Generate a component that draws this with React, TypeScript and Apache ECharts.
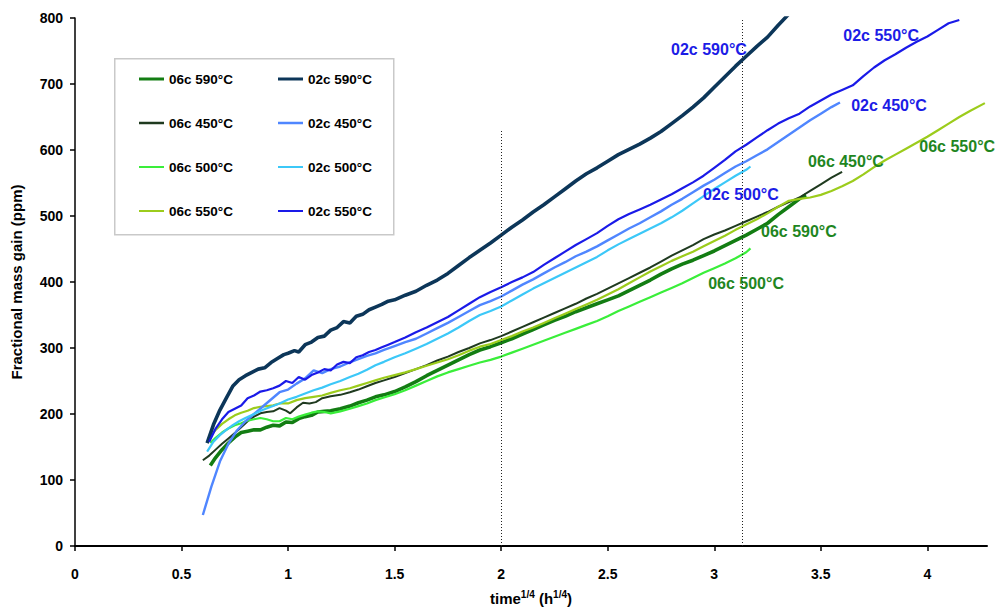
import React, { useEffect, useRef } from "react";
import * as echarts from "echarts";

// ---------- data (x = time^1/4 in h^1/4, y = fractional mass gain in ppm) ----------
const s06c590: number[][] = [
  [0.635, 122], [0.66, 134], [0.69, 146], [0.72, 156], [0.75, 165], [0.78, 172], [0.81, 174], [0.84, 176],
  [0.87, 176], [0.9, 180], [0.93, 183], [0.96, 182], [0.99, 188], [1.02, 187], [1.05, 193], [1.08, 196],
  [1.11, 198], [1.14, 203], [1.17, 204], [1.2, 205], [1.245, 208], [1.29, 212], [1.33, 217], [1.37, 221],
  [1.41, 226], [1.45, 229], [1.5, 234], [1.55, 241], [1.6, 249], [1.65, 258], [1.7, 266], [1.75, 274],
  [1.8, 282], [1.85, 290], [1.9, 297], [1.95, 302], [2.0, 308], [2.05, 314], [2.1, 321], [2.15, 328],
  [2.2, 335], [2.25, 342], [2.3, 348], [2.35, 355], [2.4, 361], [2.45, 367], [2.5, 373], [2.55, 379],
  [2.6, 387], [2.65, 395], [2.7, 403], [2.75, 412], [2.8, 420], [2.85, 427], [2.9, 433], [2.95, 440],
  [3.0, 447], [3.05, 455], [3.1, 463], [3.15, 471], [3.2, 480], [3.25, 489], [3.3, 502], [3.35, 514],
  [3.4, 526], [3.43, 532],
];
const s06c450: number[][] = [
  [0.6, 130], [0.63, 137], [0.66, 146], [0.69, 155], [0.72, 163], [0.75, 171], [0.78, 180], [0.81, 189],
  [0.84, 196], [0.87, 201], [0.9, 203], [0.93, 204], [0.96, 209], [0.99, 205], [1.01, 201], [1.04, 210],
  [1.07, 217], [1.1, 216], [1.13, 218], [1.16, 224], [1.2, 227], [1.245, 229], [1.29, 233], [1.33, 237],
  [1.37, 242], [1.41, 247], [1.45, 251], [1.5, 256], [1.55, 262], [1.6, 268], [1.65, 274], [1.7, 281],
  [1.75, 287], [1.8, 294], [1.85, 300], [1.9, 307], [1.95, 312], [2.0, 318], [2.05, 325], [2.1, 332],
  [2.15, 339], [2.2, 346], [2.25, 353], [2.3, 360], [2.35, 367], [2.4, 375], [2.45, 382], [2.5, 390],
  [2.55, 398], [2.6, 406], [2.65, 414], [2.7, 422], [2.75, 431], [2.8, 440], [2.85, 448], [2.9, 456],
  [2.95, 465], [3.0, 472], [3.05, 478], [3.1, 485], [3.15, 492], [3.2, 499], [3.25, 506], [3.3, 514],
  [3.35, 521], [3.4, 528], [3.45, 538], [3.5, 548], [3.55, 558], [3.6, 567],
];
const s06c500: number[][] = [
  [0.635, 156], [0.66, 164], [0.69, 172], [0.72, 178], [0.75, 183], [0.78, 186], [0.81, 190], [0.84, 192],
  [0.87, 194], [0.9, 192], [0.93, 189], [0.96, 189], [0.99, 194], [1.02, 192], [1.05, 196], [1.08, 199],
  [1.11, 202], [1.14, 204], [1.17, 203], [1.2, 201], [1.245, 204], [1.29, 208], [1.33, 212], [1.37, 216],
  [1.41, 221], [1.45, 225], [1.5, 230], [1.55, 236], [1.6, 243], [1.65, 250], [1.7, 257], [1.75, 263],
  [1.8, 268], [1.85, 273], [1.9, 278], [1.95, 282], [2.0, 287], [2.05, 293], [2.1, 299], [2.15, 305],
  [2.2, 311], [2.25, 317], [2.3, 323], [2.35, 329], [2.4, 335], [2.45, 341], [2.5, 348], [2.55, 356],
  [2.6, 363], [2.65, 370], [2.7, 377], [2.75, 384], [2.8, 391], [2.85, 398], [2.9, 406], [2.95, 414],
  [3.0, 421], [3.05, 428], [3.1, 436], [3.15, 445], [3.17, 451],
];
const s06c550: number[][] = [
  [0.635, 166], [0.66, 176], [0.69, 185], [0.72, 192], [0.75, 198], [0.78, 202], [0.81, 205], [0.84, 209],
  [0.87, 211], [0.9, 212], [0.93, 213], [0.96, 216], [1.0, 216], [1.04, 221], [1.08, 224], [1.12, 226],
  [1.16, 228], [1.2, 232], [1.245, 236], [1.29, 239], [1.33, 243], [1.37, 247], [1.41, 251], [1.45, 255],
  [1.5, 259], [1.55, 263], [1.6, 268], [1.65, 273], [1.7, 278], [1.75, 283], [1.8, 289], [1.85, 296],
  [1.9, 302], [1.95, 306], [2.0, 312], [2.05, 318], [2.1, 325], [2.15, 331], [2.2, 338], [2.25, 345],
  [2.3, 352], [2.35, 359], [2.4, 366], [2.45, 373], [2.5, 381], [2.55, 389], [2.6, 398], [2.65, 407],
  [2.7, 416], [2.75, 424], [2.8, 432], [2.85, 439], [2.9, 446], [2.95, 454], [3.0, 462], [3.05, 470],
  [3.1, 479], [3.15, 487], [3.2, 495], [3.25, 504], [3.3, 514], [3.35, 523], [3.4, 526], [3.45, 528],
  [3.5, 532], [3.55, 538], [3.6, 545], [3.65, 553], [3.7, 563], [3.75, 574], [3.8, 584], [3.85, 593],
  [3.9, 602], [3.95, 611], [4.0, 620], [4.05, 630], [4.1, 640], [4.15, 650], [4.2, 659], [4.27, 671],
];
const s02c590: number[][] = [
  [0.62, 156], [0.65, 184], [0.68, 206], [0.71, 224], [0.74, 242], [0.77, 252], [0.8, 258], [0.83, 263],
  [0.86, 268], [0.89, 270], [0.92, 278], [0.95, 284], [0.98, 290], [1.0, 292], [1.03, 296], [1.05, 294],
  [1.08, 305], [1.11, 309], [1.14, 316], [1.17, 318], [1.2, 327], [1.23, 331], [1.26, 340], [1.29, 338],
  [1.32, 348], [1.35, 351], [1.38, 358], [1.41, 362], [1.44, 366], [1.47, 371], [1.5, 373], [1.55, 380],
  [1.6, 386], [1.65, 395], [1.7, 403], [1.75, 413], [1.8, 425], [1.85, 437], [1.9, 448], [1.95, 459],
  [2.0, 471], [2.05, 483], [2.1, 494], [2.15, 506], [2.2, 517], [2.25, 529], [2.3, 541], [2.35, 553],
  [2.4, 564], [2.45, 573], [2.5, 583], [2.55, 593], [2.6, 601], [2.65, 609], [2.7, 618], [2.75, 628],
  [2.8, 640], [2.85, 652], [2.9, 665], [2.95, 679], [3.0, 695], [3.05, 711], [3.1, 727], [3.15, 742],
  [3.2, 757], [3.25, 771], [3.3, 789], [3.35, 806],
];
const s02c450: number[][] = [
  [0.6, 47], [0.64, 90], [0.68, 128], [0.72, 155], [0.76, 175], [0.8, 189], [0.84, 200], [0.88, 211],
  [0.92, 222], [0.96, 233], [1.0, 237], [1.04, 246], [1.08, 254], [1.12, 266], [1.16, 262], [1.2, 268],
  [1.245, 272], [1.28, 277], [1.32, 282], [1.37, 288], [1.41, 292], [1.45, 297], [1.5, 303], [1.55, 309],
  [1.6, 314], [1.65, 322], [1.7, 330], [1.75, 338], [1.8, 347], [1.85, 356], [1.9, 365], [1.95, 371],
  [2.0, 378], [2.05, 387], [2.1, 396], [2.15, 404], [2.2, 413], [2.25, 422], [2.3, 430], [2.35, 439],
  [2.4, 446], [2.45, 454], [2.5, 463], [2.55, 472], [2.6, 481], [2.65, 489], [2.7, 498], [2.75, 507],
  [2.8, 517], [2.85, 526], [2.9, 536], [2.95, 546], [3.0, 555], [3.05, 565], [3.1, 575], [3.15, 583],
  [3.2, 592], [3.25, 601], [3.3, 612], [3.35, 623], [3.4, 634], [3.45, 645], [3.5, 655], [3.55, 665],
  [3.59, 672],
];
const s02c500: number[][] = [
  [0.62, 143], [0.65, 158], [0.68, 168], [0.71, 176], [0.74, 183], [0.77, 189], [0.8, 194], [0.84, 200],
  [0.88, 206], [0.92, 211], [0.96, 216], [1.0, 222], [1.04, 226], [1.08, 231], [1.12, 236], [1.16, 240],
  [1.2, 245], [1.245, 250], [1.29, 256], [1.33, 261], [1.37, 267], [1.41, 274], [1.45, 279], [1.5, 286],
  [1.55, 292], [1.6, 299], [1.65, 306], [1.7, 314], [1.75, 322], [1.8, 331], [1.85, 341], [1.9, 350],
  [1.95, 356], [2.0, 363], [2.05, 372], [2.1, 381], [2.15, 390], [2.2, 398], [2.25, 406], [2.3, 414],
  [2.35, 422], [2.4, 430], [2.45, 438], [2.5, 448], [2.55, 457], [2.6, 465], [2.65, 473], [2.7, 481],
  [2.75, 489], [2.8, 498], [2.85, 508], [2.9, 519], [2.95, 530], [3.0, 541], [3.05, 551], [3.1, 561],
  [3.15, 570], [3.17, 575],
];
const s02c550: number[][] = [
  [0.63, 158], [0.66, 178], [0.69, 192], [0.72, 203], [0.75, 208], [0.78, 213], [0.81, 224], [0.84, 228],
  [0.87, 234], [0.9, 236], [0.93, 239], [0.96, 243], [0.99, 250], [1.02, 247], [1.05, 256], [1.08, 252],
  [1.11, 259], [1.14, 263], [1.17, 268], [1.2, 266], [1.23, 275], [1.26, 279], [1.29, 277], [1.32, 286],
  [1.35, 289], [1.38, 294], [1.41, 297], [1.44, 301], [1.47, 305], [1.5, 309], [1.55, 316], [1.6, 324],
  [1.65, 331], [1.7, 339], [1.75, 347], [1.8, 357], [1.85, 367], [1.9, 377], [1.95, 385], [2.0, 392],
  [2.05, 400], [2.1, 407], [2.15, 415], [2.2, 426], [2.25, 436], [2.3, 446], [2.35, 456], [2.4, 465],
  [2.45, 474], [2.5, 485], [2.55, 495], [2.6, 503], [2.65, 510], [2.7, 517], [2.75, 525], [2.8, 533],
  [2.85, 542], [2.9, 551], [2.95, 561], [3.0, 573], [3.05, 585], [3.1, 598], [3.15, 608], [3.2, 619],
  [3.25, 630], [3.3, 640], [3.35, 648], [3.4, 655], [3.45, 666], [3.5, 675], [3.55, 684], [3.6, 691],
  [3.65, 698], [3.7, 712], [3.75, 725], [3.8, 736], [3.85, 745], [3.9, 755], [3.95, 764], [4.0, 772],
  [4.05, 782], [4.1, 792], [4.15, 797],
];

const seriesNames = [
  "06c 590°C", "06c 450°C", "06c 500°C", "06c 550°C",
  "02c 590°C", "02c 450°C", "02c 500°C", "02c 550°C",
];
const seriesData = [s06c590, s06c450, s06c500, s06c550, s02c590, s02c450, s02c500, s02c550];

const xTicks = [0, 0.5, 1, 1.5, 2, 2.5, 3, 3.5, 4];
const xMax = 4.28;
const yMin = 0;
const yMax = 800;
const yInterval = 100;

// dotted reference lines: x position, upper end (ppm)
const dividerX = [2, 3.13];
const dividerTop = [630, 800];

// in-plot annotations: text, x, y (data coordinates), group
const annoText = [
  "02c 590°C", "02c 550°C", "02c 450°C", "02c 500°C",
  "06c 450°C", "06c 550°C", "06c 590°C", "06c 500°C",
];
const annoX = [2.795, 3.603, 3.64, 2.945, 3.438, 3.96, 3.217, 2.969];
const annoY = [753, 773, 668, 532, 583, 605, 477, 397];
const annoGroup = ["02c", "02c", "02c", "02c", "06c", "06c", "06c", "06c"];

// ---------- styles ----------
const COLORS = [
  "#137d13", "#1f3a1f", "#3aee3a", "#9ccc1c",
  "#0c3659", "#4f86ff", "#3cc8f8", "#1a1ae8",
];
const WIDTHS = [3.6, 2, 2.2, 2.2, 3.6, 2.4, 2.2, 2.2];
const LEGEND_W = [3, 2.5, 2, 2, 3, 2.5, 2, 2];
const FONT = "'Liberation Sans', Arial, Helvetica, sans-serif";
const annoColor: Record<string, string> = { "02c": "#1c1ce6", "06c": "#1f861f" };

export default function App() {
  const ref = useRef<HTMLDivElement>(null);

  useEffect(() => {
    if (!ref.current) return;
    const chart = echarts.init(ref.current, undefined, { renderer: "svg" });

    const lineSeries: any[] = seriesNames.map((name, i) => ({
      name,
      type: "line",
      data: seriesData[i],
      showSymbol: false,
      symbol: "none",
      color: COLORS[i],
      lineStyle: { color: COLORS[i], width: WIDTHS[i] },
      z: i >= 4 ? 3 : 2,
      silent: true,
      ...(i === 0
        ? {
            markLine: {
              silent: true,
              symbol: "none",
              label: { show: false },
              lineStyle: { color: "#222", type: [1, 2], width: 1 },
              data: dividerX.map((x, k) => [
                { coord: [x, yMin] },
                { coord: [x, dividerTop[k]] },
              ]),
            },
          }
        : {}),
    }));

    const annoSeries = {
      type: "scatter",
      symbolSize: 1,
      silent: true,
      itemStyle: { color: "rgba(0,0,0,0)", opacity: 1 },
      z: 5,
      data: annoText.map((t, i) => ({
        value: [annoX[i], annoY[i]],
        label: {
          show: true,
          formatter: t,
          position: "right",
          distance: 0,
          color: annoColor[annoGroup[i]],
          opacity: 1,
          fontSize: 16,
          fontWeight: "bold",
          fontFamily: FONT,
        },
      })),
    };

    const legendItem = (i: number) => ({
      name: seriesNames[i],
      icon: `path://M0,0L25,0L25,${LEGEND_W[i]}L0,${LEGEND_W[i]}Z`,
    });

    const legendBase = {
      orient: "vertical",
      top: 67,
      itemWidth: 25,
      itemHeight: 14,
      itemGap: 30,
      selectedMode: false,
      textStyle: { fontSize: 13.5, fontWeight: "bold", color: "#000", fontFamily: FONT },
      z: 10,
    };

    chart.setOption({
      animation: false,
      backgroundColor: "#fff",
      textStyle: { fontFamily: FONT },
      grid: {
        left: 75,
        right: 10,
        top: 18,
        bottom: 64,
        containLabel: false,
        outerBoundsMode: "none",
      },
      legend: [
        { ...legendBase, left: 134, data: [0, 1, 2, 3].map(legendItem) },
        { ...legendBase, left: 273, data: [4, 5, 6, 7].map(legendItem) },
      ],
      graphic: [
        {
          type: "rect",
          left: 114,
          top: 58,
          shape: { width: 279, height: 176 },
          style: { fill: "#fff", stroke: "#c9c9c9", lineWidth: 1.5 },
          z: 8,
        },
      ],
      xAxis: {
        type: "value",
        min: 0,
        max: xMax,
        name: "{a|time}{s|1/4}{a| (h}{s|1/4}{a|)}",
        nameLocation: "middle",
        nameGap: 43,
        nameTextStyle: {
          rich: {
            a: { fontSize: 15, fontWeight: "bold", color: "#000", fontFamily: FONT },
            s: { fontSize: 10, fontWeight: "bold", color: "#000", fontFamily: FONT, padding: [0, 0, 9, 0] },
          },
        },
        axisLine: { show: true, onZero: false, lineStyle: { color: "#000", width: 2 } },
        axisTick: { show: true, length: 5, lineStyle: { color: "#000", width: 1.5 }, customValues: xTicks },
        axisLabel: {
          customValues: xTicks,
          margin: 21,
          fontSize: 14,
          fontWeight: "bold",
          color: "#000",
          fontFamily: FONT,
        },
        splitLine: { show: false },
      },
      yAxis: {
        type: "value",
        min: yMin,
        max: yMax,
        interval: yInterval,
        name: "Fractional mass gain (ppm)",
        nameLocation: "middle",
        nameGap: 51,
        nameTextStyle: { fontSize: 15, fontWeight: "bold", color: "#000", fontFamily: FONT },
        axisLine: { show: true, lineStyle: { color: "#000", width: 1.5 } },
        axisTick: { show: true, length: 5, lineStyle: { color: "#000", width: 1.5 } },
        axisLabel: { margin: 12, fontSize: 14, fontWeight: "bold", color: "#000", fontFamily: FONT },
        splitLine: { show: false },
      },
      series: [...lineSeries, annoSeries],
    });

    return () => chart.dispose();
  }, []);

  return (
    <div
      ref={ref}
      style={{ position: "fixed", left: 0, top: 0, width: 997, height: 610, background: "#fff" }}
    />
  );
}
